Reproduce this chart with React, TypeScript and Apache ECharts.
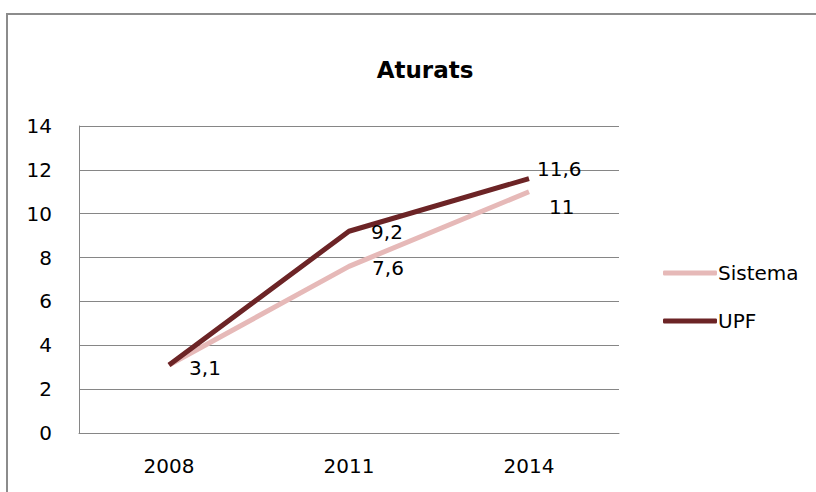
import React, { useEffect, useRef } from "react";
import * as echarts from "echarts";

const categories = ["2008", "2011", "2014"];
const sistemaValues = [3.1, 7.6, 11];
const upfValues = [3.1, 9.2, 11.6];
const seriesNames = ["Sistema", "UPF"];
const titleText = "Aturats";

const FONT = "'DejaVu Sans', sans-serif";

const sistemaLabelStyle = [
  { show: false },
  { distance: 23, offset: [0, 2] },
  { distance: 20, offset: [0, 15] },
];
const upfLabelStyle = [
  { distance: 20, offset: [0, 3] },
  { distance: 22, offset: [0, 1] },
  { distance: 8, offset: [0, -10] },
];

export default function App() {
  const ref = useRef<HTMLDivElement>(null);
  useEffect(() => {
    if (!ref.current) return;
    const chart = echarts.init(ref.current, null, { renderer: "svg" });
    const fmt = (p: any) => String(p.value).replace(".", ",");
    const mk = (vals: number[], styles: any[]) =>
      vals.map((v, i) => ({
        value: v,
        label: { show: true, position: "right", formatter: fmt, ...styles[i] },
      }));
    const labelBase = { fontFamily: FONT, fontSize: 20, color: "#000" };
    chart.setOption({
      animation: false,
      backgroundColor: "#ffffff",
      textStyle: { fontFamily: FONT },
      title: {
        text: titleText,
        left: 420,
        textAlign: "center",
        top: 53,
        textStyle: { fontFamily: FONT, fontSize: 23, fontWeight: "bold", color: "#000" },
      },
      graphic: [
        {
          type: "rect",
          shape: { x: 7, y: 14, width: 900, height: 600 },
          style: { fill: "none", stroke: "#8c8c8c", lineWidth: 2 },
          z: -10,
        },
      ],
      legend: {
        orient: "vertical",
        left: 658,
        top: 258,
        itemWidth: 54,
        itemHeight: 5,
        itemGap: 28,
        icon: "roundRect",
        data: seriesNames,
        textStyle: { fontFamily: FONT, fontSize: 20, color: "#000", padding: [0, 0, 0, -4] },
      },
      grid: { left: 79, right: 197, top: 126, bottom: 59 },
      xAxis: {
        type: "category",
        data: categories,
        boundaryGap: true,
        axisLine: { lineStyle: { color: "#868686", width: 1 } },
        axisTick: { show: false },
        axisLabel: { ...labelBase, margin: 23 },
      },
      yAxis: {
        type: "value",
        min: 0,
        max: 14,
        interval: 2,
        axisLine: { show: true, lineStyle: { color: "#868686", width: 1 } },
        axisTick: { show: false },
        splitLine: { lineStyle: { color: "#868686", width: 1 } },
        axisLabel: { ...labelBase, margin: 27 },
      },
      series: [
        {
          name: seriesNames[0],
          type: "line",
          data: mk(sistemaValues, sistemaLabelStyle),
          symbol: "circle",
          symbolSize: 0.1,
          showSymbol: true,
          lineStyle: { color: "#e6b9b8", width: 5 },
          itemStyle: { color: "#e6b9b8" },
          label: labelBase,
          z: 2,
        },
        {
          name: seriesNames[1],
          type: "line",
          data: mk(upfValues, upfLabelStyle),
          symbol: "circle",
          symbolSize: 0.1,
          showSymbol: true,
          lineStyle: { color: "#6c2426", width: 5 },
          itemStyle: { color: "#6c2426" },
          label: labelBase,
          z: 3,
        },
      ],
    });
    return () => chart.dispose();
  }, []);
  return (
    <div
      ref={ref}
      style={{ position: "fixed", left: 0, top: 0, width: 816, height: 492 }}
    />
  );
}
